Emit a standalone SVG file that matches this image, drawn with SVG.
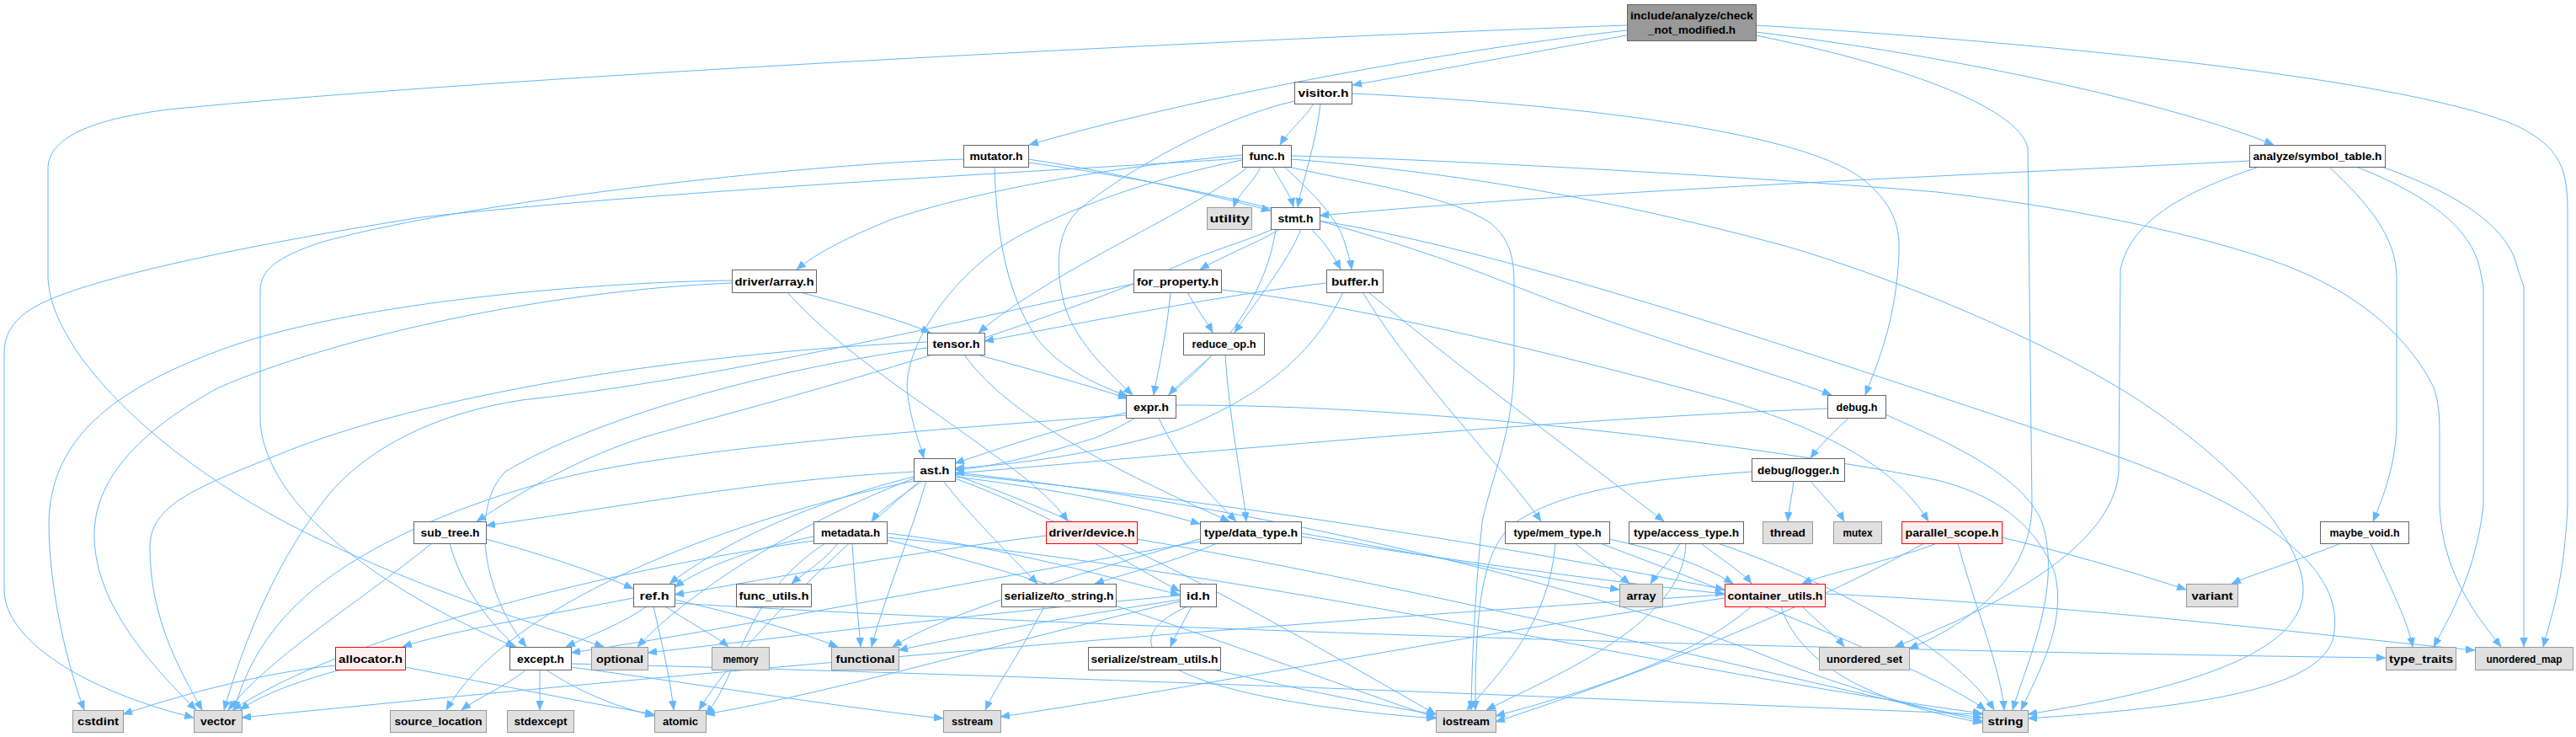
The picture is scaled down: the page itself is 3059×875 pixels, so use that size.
<svg xmlns="http://www.w3.org/2000/svg" width="3059" height="875" viewBox="0 0 3059 875">
<style>
rect{stroke-width:1}
.w rect{fill:#ffffff;stroke:#666666}
.g rect{fill:#e0e0e0;stroke:#999999}
.r rect{fill:#fff0f0;stroke:#ff0000}
.m rect{fill:#999999;stroke:#666666}
text{font-family:"Liberation Sans",Arial,sans-serif;font-size:13px;font-weight:bold;fill:#000000;text-anchor:middle}
#edges path{fill:none;stroke:#63b8ff;stroke-width:1;marker-end:url(#a)}
</style>
<defs>
<marker id="a" markerWidth="11" markerHeight="9" refX="11" refY="4.5" orient="auto" markerUnits="userSpaceOnUse" viewBox="0 0 11 9">
<path d="M0,0 L11,4.5 L0,9 z" fill="#63b8ff" stroke="#63b8ff" stroke-width="0.5"/>
</marker>
</defs>
<rect x="0" y="0" width="3059" height="875" fill="#ffffff"/>
<g id="edges">
<path d="M1932,42 C1820,62 1680,88 1606,101"/>
<path d="M1932,36 C1700,62 1400,120 1222,172"/>
<path d="M2085,38 C2350,70 2600,130 2700,172"/>
<path d="M1932,30 C1500,45 600,90 200,130 C120,140 57,160 57,200 L57,330 C60,420 200,560 400,650 C530,710 650,745 717,768"/>
<path d="M2085,42 C2250,75 2395,125 2408,175 L2413,600 C2412,690 2330,745 2267,770"/>
<path d="M2085,30 C2500,55 2880,100 2990,150 C3040,175 3049,200 3049,250 L3049,600 C3045,690 3030,730 3020,768"/>
<path d="M1560,123 C1550,140 1530,155 1520,172"/>
<path d="M1568,123 C1563,170 1548,210 1541,246"/>
<path d="M1537,120 C1450,140 1340,200 1280,250 C1250,280 1255,330 1265,365 C1280,410 1320,445 1345,469"/>
<path d="M1605,111 C1900,125 2150,160 2215,215 C2250,245 2256,270 2255,300 C2252,380 2230,430 2215,469"/>
<path d="M1221,189 C1330,205 1450,235 1509,250"/>
<path d="M1181,198 C1183,260 1190,340 1230,400 C1260,440 1310,460 1339,470"/>
<path d="M1221,193 C1500,230 1700,300 1800,340 C1950,400 2100,440 2175,469"/>
<path d="M1144,189 C950,195 550,240 380,288 C330,305 309,320 309,345 L309,500 C315,600 450,700 612,768"/>
<path d="M1475,184 C1300,200 1150,230 1060,260 C1010,280 970,300 946,320"/>
<path d="M1482,198 C1420,250 1250,320 1162,395"/>
<path d="M1475,190 C1350,215 1240,260 1190,292 C1120,340 1070,420 1078,470 C1083,505 1092,525 1097,544"/>
<path d="M1497,198 C1490,215 1470,230 1465,246"/>
<path d="M1511,198 C1520,215 1532,230 1536,246"/>
<path d="M1525,198 C1560,230 1590,260 1598,292 C1602,305 1604,312 1605,320"/>
<path d="M1533,185 C1750,190 2150,215 2300,228 C2450,245 2600,275 2700,310 C2800,345 2860,400 2890,460 C2897,480 2897,500 2897,520 L2897,600 C2900,680 2940,730 2970,768"/>
<path d="M1533,189 C1800,210 2000,260 2120,292 C2250,330 2420,400 2530,469 C2650,545 2735,640 2735,700 C2735,760 2650,810 2408,848"/>
<path d="M1530,198 C1600,215 1720,230 1770,265 C1795,285 1798,310 1798,340 L1798,440 C1795,520 1770,570 1760,620 C1752,700 1748,780 1747,843"/>
<path d="M1475,188 C1300,200 800,225 500,258 C300,290 100,330 40,365 C12,382 5,400 5,420 L5,700 C5,760 100,820 230,852"/>
<path d="M2671,191 C2400,205 1900,225 1567,256"/>
<path d="M2683,198 C2600,225 2530,260 2518,320 L2516,560 C2510,640 2400,710 2250,768"/>
<path d="M2766,198 C2810,240 2846,280 2846,330 L2846,500 C2846,550 2830,590 2818,619"/>
<path d="M2798,198 C2880,230 2935,270 2945,320 L2949,340 L2949,600 C2940,680 2910,730 2890,768"/>
<path d="M2828,198 C2920,230 2980,270 2990,320 L2997,340 L2997,768"/>
<path d="M1520,272 C1500,285 1450,305 1425,320"/>
<path d="M1557,272 C1570,285 1582,300 1592,320"/>
<path d="M1545,272 C1530,310 1490,360 1466,395"/>
<path d="M1515,272 C1500,380 1400,480 1300,520 C1220,545 1170,555 1134,558"/>
<path d="M1567,262 C1800,300 2150,420 2450,520 C2700,600 2790,680 2770,760 C2750,820 2600,840 2408,853"/>
<path d="M1512,272 C1470,290 1430,300 1400,315 C1150,420 900,480 765,519 C700,540 640,570 566,619"/>
<path d="M950,347 C1000,360 1070,380 1105,395"/>
<path d="M935,347 C1000,420 1100,480 1180,540 C1230,575 1255,600 1268,619"/>
<path d="M869,333 C700,335 400,360 250,420 C120,470 60,530 58,620 C58,700 80,790 100,843"/>
<path d="M869,336 C650,345 400,400 260,460 C150,520 110,580 112,640 C115,720 180,790 233,843"/>
<path d="M1390,347 C1385,400 1375,440 1370,469"/>
<path d="M1410,347 C1420,365 1432,380 1440,395"/>
<path d="M1450,344 C1600,360 1850,420 2050,475 C2200,520 2260,570 2290,619"/>
<path d="M1346,337 C1100,390 850,450 620,475 C520,490 440,530 393,584 C330,660 290,760 266,843"/>
<path d="M1575,336 C1450,350 1250,390 1169,405"/>
<path d="M1618,347 C1680,450 1790,560 1830,619"/>
<path d="M1625,347 C1750,450 1900,560 1976,619"/>
<path d="M1595,347 C1560,420 1500,470 1400,510 C1300,540 1200,552 1134,556"/>
<path d="M1160,421 C1230,440 1300,460 1339,473"/>
<path d="M1145,421 C1200,500 1350,570 1460,619"/>
<path d="M1101,406 C800,420 500,470 330,540 C230,580 178,600 178,650 C178,730 210,790 240,843"/>
<path d="M1101,413 C900,440 700,500 600,560 C560,600 570,700 625,768"/>
<path d="M1440,421 C1420,440 1400,455 1388,469"/>
<path d="M1455,421 C1460,500 1475,570 1480,619"/>
<path d="M1337,490 C1250,510 1180,535 1134,550"/>
<path d="M1376,496 C1400,550 1440,590 1468,619"/>
<path d="M1396,481 C1700,480 2100,530 2300,570 C2380,590 2420,630 2440,680 C2455,740 2420,800 2400,843"/>
<path d="M1337,493 C1100,510 850,530 700,560 C560,590 420,650 350,720 C310,760 290,800 278,843"/>
<path d="M2196,496 C2180,510 2160,530 2150,544"/>
<path d="M2170,485 C1800,500 1400,540 1134,562"/>
<path d="M2239,492 C2300,520 2400,560 2425,620 C2450,700 2405,790 2390,843"/>
<path d="M2130,571 C2128,590 2124,605 2123,619"/>
<path d="M2150,571 C2165,590 2182,605 2190,619"/>
<path d="M2080,560 C1950,570 1860,580 1800,620 C1760,650 1752,720 1752,843"/>
<path d="M1085,560 C900,570 750,600 577,624"/>
<path d="M1095,571 C1070,590 1045,605 1035,619"/>
<path d="M1134,566 C1250,580 1350,600 1425,622"/>
<path d="M1120,571 C1150,610 1200,660 1232,693"/>
<path d="M1085,566 C950,600 850,650 795,693"/>
<path d="M1134,568 C1250,610 1340,670 1401,702"/>
<path d="M1100,571 C1080,640 1050,710 1035,768"/>
<path d="M1092,571 C1000,650 880,760 830,843"/>
<path d="M1085,568 C950,620 820,700 757,768"/>
<path d="M1085,571 C850,620 600,720 530,843"/>
<path d="M1134,561 C1500,600 1900,700 2100,780 C2200,820 2290,845 2354,852"/>
<path d="M1134,564 C1350,640 1550,760 1705,848"/>
<path d="M1134,563 C1500,600 1850,660 2048,700"/>
<path d="M577,640 C650,660 710,680 752,699"/>
<path d="M513,645 C420,720 320,780 271,843"/>
<path d="M534,645 C560,740 650,820 777,850"/>
<path d="M966,637 C900,650 840,670 801,697"/>
<path d="M995,645 C980,665 955,680 940,693"/>
<path d="M1012,645 C1015,700 1020,740 1022,768"/>
<path d="M980,645 C880,710 880,800 838,848"/>
<path d="M1053,633 C1200,650 1330,690 1401,706"/>
<path d="M1053,638 C1500,680 2000,800 2354,847"/>
<path d="M1053,641 C1300,700 1550,800 1705,852"/>
<path d="M966,642 C700,680 400,760 276,843"/>
<path d="M1242,636 C1050,660 900,690 801,706"/>
<path d="M1350,640 C1700,700 2100,800 2354,856"/>
<path d="M1445,645 C1400,665 1340,680 1300,693"/>
<path d="M1425,640 C1250,690 1120,730 1060,768"/>
<path d="M1545,633 C1700,660 1850,690 1923,700"/>
<path d="M1545,637 C1750,670 1950,695 2048,705"/>
<path d="M1425,643 C1100,700 850,750 678,775"/>
<path d="M1870,645 C1895,665 1920,680 1935,693"/>
<path d="M1847,645 C1840,740 1780,800 1742,843"/>
<path d="M1900,645 C2100,720 2300,800 2358,843"/>
<path d="M1911,640 C1980,655 2030,675 2058,693"/>
<path d="M1995,645 C1985,665 1968,680 1960,693"/>
<path d="M2020,645 C2045,665 2070,680 2080,693"/>
<path d="M2002,645 C2000,740 1850,800 1765,843"/>
<path d="M2040,645 C2200,700 2330,780 2368,843"/>
<path d="M2377,638 C2470,660 2550,685 2596,700"/>
<path d="M2300,645 C2250,665 2170,680 2140,693"/>
<path d="M2325,645 C2345,720 2375,790 2380,843"/>
<path d="M2285,645 C2150,720 1950,800 1776,857"/>
<path d="M2780,645 C2730,665 2680,680 2650,693"/>
<path d="M2815,645 C2840,700 2860,740 2865,768"/>
<path d="M752,710 C650,730 530,750 478,768"/>
<path d="M768,720 C740,740 700,755 672,768"/>
<path d="M790,720 C820,740 850,755 865,768"/>
<path d="M801,712 C880,730 950,750 995,768"/>
<path d="M776,720 C785,760 795,800 800,843"/>
<path d="M801,716 C1200,740 2000,770 2833,781"/>
<path d="M398,790 C300,800 200,830 146,848"/>
<path d="M405,795 C350,810 310,825 285,843"/>
<path d="M481,792 C600,815 700,835 777,848"/>
<path d="M625,795 C600,815 565,830 548,843"/>
<path d="M641,795 L641,843"/>
<path d="M678,792 C850,815 1000,840 1120,853"/>
<path d="M678,788 C1200,800 1900,830 2354,848"/>
<path d="M1401,712 C1250,735 1120,760 1067,772"/>
<path d="M1401,714 C1200,760 1000,820 838,848"/>
<path d="M1401,707 C1150,730 900,760 769,775"/>
<path d="M1415,720 C1405,740 1395,755 1390,768"/>
<path d="M1410,720 C1300,770 1400,830 1705,853"/>
<path d="M1240,720 C1215,770 1185,810 1170,843"/>
<path d="M1440,795 C1550,820 1650,840 1705,848"/>
<path d="M2140,720 C2160,740 2180,755 2190,768"/>
<path d="M2167,705 C2500,720 2800,760 2939,772"/>
<path d="M2115,720 C2140,800 2250,840 2354,858"/>
<path d="M2080,720 C2000,790 1850,830 1776,850"/>
<path d="M2048,710 C1700,760 1400,820 1188,851"/>
<path d="M2048,706 C1500,740 800,800 287,852"/>
</g>
<g id="node-main" class="m"><rect x="1932.5" y="5.5" width="153" height="43"/><text x="2009" y="23" textLength="146" lengthAdjust="spacingAndGlyphs">include/analyze/check</text><text x="2009" y="40" textLength="104" lengthAdjust="spacingAndGlyphs">_not_modified.h</text></g>
<g id="node-visitor" class="w"><rect x="1537.5" y="97.5" width="68" height="26"/><text x="1571.5" y="115" textLength="60" lengthAdjust="spacingAndGlyphs">visitor.h</text></g>
<g id="node-mutator" class="w"><rect x="1144.5" y="172.5" width="77" height="26"/><text x="1183" y="190" textLength="63" lengthAdjust="spacingAndGlyphs">mutator.h</text></g>
<g id="node-func" class="w"><rect x="1475.5" y="172.5" width="58" height="26"/><text x="1504.5" y="190" textLength="42" lengthAdjust="spacingAndGlyphs">func.h</text></g>
<g id="node-symbol_table" class="w"><rect x="2671.5" y="172.5" width="161" height="26"/><text x="2752" y="190" textLength="153" lengthAdjust="spacingAndGlyphs">analyze/symbol_table.h</text></g>
<g id="node-utility" class="g"><rect x="1433.5" y="246.5" width="53" height="26"/><text x="1460" y="264" textLength="47" lengthAdjust="spacingAndGlyphs">utility</text></g>
<g id="node-stmt" class="w"><rect x="1509.5" y="246.5" width="58" height="26"/><text x="1538.5" y="264" textLength="42" lengthAdjust="spacingAndGlyphs">stmt.h</text></g>
<g id="node-driver_array" class="w"><rect x="869.5" y="320.5" width="100" height="27"/><text x="919.5" y="338.5" textLength="94" lengthAdjust="spacingAndGlyphs">driver/array.h</text></g>
<g id="node-for_property" class="w"><rect x="1346.5" y="320.5" width="104" height="27"/><text x="1398.5" y="338.5" textLength="97" lengthAdjust="spacingAndGlyphs">for_property.h</text></g>
<g id="node-buffer" class="w"><rect x="1575.5" y="320.5" width="67" height="27"/><text x="1609" y="338.5" textLength="56" lengthAdjust="spacingAndGlyphs">buffer.h</text></g>
<g id="node-tensor" class="w"><rect x="1101.5" y="395.5" width="68" height="26"/><text x="1135.5" y="413" textLength="56" lengthAdjust="spacingAndGlyphs">tensor.h</text></g>
<g id="node-reduce_op" class="w"><rect x="1405.5" y="395.5" width="96" height="26"/><text x="1453.5" y="413" textLength="76" lengthAdjust="spacingAndGlyphs">reduce_op.h</text></g>
<g id="node-expr" class="w"><rect x="1337.5" y="469.5" width="59" height="27"/><text x="1367" y="487.5" textLength="42" lengthAdjust="spacingAndGlyphs">expr.h</text></g>
<g id="node-debug" class="w"><rect x="2170.5" y="469.5" width="69" height="27"/><text x="2205" y="487.5" textLength="49" lengthAdjust="spacingAndGlyphs">debug.h</text></g>
<g id="node-ast" class="w"><rect x="1085.5" y="544.5" width="49" height="27"/><text x="1110" y="562.5" textLength="35" lengthAdjust="spacingAndGlyphs">ast.h</text></g>
<g id="node-logger" class="w"><rect x="2080.5" y="544.5" width="110" height="27"/><text x="2135.5" y="562.5" textLength="97" lengthAdjust="spacingAndGlyphs">debug/logger.h</text></g>
<g id="node-sub_tree" class="w"><rect x="491.5" y="619.5" width="86" height="26"/><text x="534.5" y="637" textLength="70" lengthAdjust="spacingAndGlyphs">sub_tree.h</text></g>
<g id="node-metadata" class="w"><rect x="966.5" y="619.5" width="87" height="26"/><text x="1010" y="637" textLength="70" lengthAdjust="spacingAndGlyphs">metadata.h</text></g>
<g id="node-device" class="r"><rect x="1242.5" y="619.5" width="108" height="26"/><text x="1296.5" y="637" textLength="102" lengthAdjust="spacingAndGlyphs">driver/device.h</text></g>
<g id="node-data_type" class="w"><rect x="1425.5" y="619.5" width="120" height="26"/><text x="1485.5" y="637" textLength="111" lengthAdjust="spacingAndGlyphs">type/data_type.h</text></g>
<g id="node-mem_type" class="w"><rect x="1787.5" y="619.5" width="124" height="26"/><text x="1849.5" y="637" textLength="104" lengthAdjust="spacingAndGlyphs">type/mem_type.h</text></g>
<g id="node-access_type" class="w"><rect x="1934.5" y="619.5" width="136" height="26"/><text x="2002.5" y="637" textLength="125" lengthAdjust="spacingAndGlyphs">type/access_type.h</text></g>
<g id="node-thread" class="g"><rect x="2093.5" y="619.5" width="59" height="26"/><text x="2123" y="637" textLength="42" lengthAdjust="spacingAndGlyphs">thread</text></g>
<g id="node-mutex" class="g"><rect x="2177.5" y="619.5" width="57" height="26"/><text x="2206" y="637" textLength="35" lengthAdjust="spacingAndGlyphs">mutex</text></g>
<g id="node-parallel_scope" class="r"><rect x="2258.5" y="619.5" width="119" height="26"/><text x="2318" y="637" textLength="111" lengthAdjust="spacingAndGlyphs">parallel_scope.h</text></g>
<g id="node-maybe_void" class="w"><rect x="2755.5" y="619.5" width="105" height="26"/><text x="2808" y="637" textLength="83" lengthAdjust="spacingAndGlyphs">maybe_void.h</text></g>
<g id="node-ref" class="w"><rect x="752.5" y="693.5" width="49" height="27"/><text x="777" y="711.5" textLength="35" lengthAdjust="spacingAndGlyphs">ref.h</text></g>
<g id="node-func_utils" class="w"><rect x="874.5" y="693.5" width="89" height="27"/><text x="919" y="711.5" textLength="83" lengthAdjust="spacingAndGlyphs">func_utils.h</text></g>
<g id="node-to_string" class="w"><rect x="1189.5" y="693.5" width="136" height="27"/><text x="1257.5" y="711.5" textLength="130" lengthAdjust="spacingAndGlyphs">serialize/to_string.h</text></g>
<g id="node-id" class="w"><rect x="1401.5" y="693.5" width="43" height="27"/><text x="1423" y="711.5" textLength="28" lengthAdjust="spacingAndGlyphs">id.h</text></g>
<g id="node-array" class="g"><rect x="1923.5" y="693.5" width="51" height="27"/><text x="1949" y="711.5" textLength="35" lengthAdjust="spacingAndGlyphs">array</text></g>
<g id="node-container_utils" class="r"><rect x="2048.5" y="693.5" width="119" height="27"/><text x="2108" y="711.5" textLength="113" lengthAdjust="spacingAndGlyphs">container_utils.h</text></g>
<g id="node-variant" class="g"><rect x="2596.5" y="693.5" width="61" height="27"/><text x="2627" y="711.5" textLength="49" lengthAdjust="spacingAndGlyphs">variant</text></g>
<g id="node-allocator" class="r"><rect x="398.5" y="768.5" width="83" height="27"/><text x="440" y="786.5" textLength="76" lengthAdjust="spacingAndGlyphs">allocator.h</text></g>
<g id="node-except" class="w"><rect x="605.5" y="768.5" width="73" height="27"/><text x="642" y="786.5" textLength="56" lengthAdjust="spacingAndGlyphs">except.h</text></g>
<g id="node-optional" class="g"><rect x="702.5" y="768.5" width="67" height="27"/><text x="736" y="786.5" textLength="56" lengthAdjust="spacingAndGlyphs">optional</text></g>
<g id="node-memory" class="g"><rect x="845.5" y="768.5" width="68" height="27"/><text x="879.5" y="786.5" textLength="42" lengthAdjust="spacingAndGlyphs">memory</text></g>
<g id="node-functional" class="g"><rect x="987.5" y="768.5" width="80" height="27"/><text x="1027.5" y="786.5" textLength="70" lengthAdjust="spacingAndGlyphs">functional</text></g>
<g id="node-stream_utils" class="w"><rect x="1292.5" y="768.5" width="157" height="27"/><text x="1371" y="786.5" textLength="151" lengthAdjust="spacingAndGlyphs">serialize/stream_utils.h</text></g>
<g id="node-unordered_set" class="g"><rect x="2160.5" y="768.5" width="107" height="27"/><text x="2214" y="786.5" textLength="90" lengthAdjust="spacingAndGlyphs">unordered_set</text></g>
<g id="node-type_traits" class="g"><rect x="2833.5" y="768.5" width="83" height="27"/><text x="2875" y="786.5" textLength="76" lengthAdjust="spacingAndGlyphs">type_traits</text></g>
<g id="node-unordered_map" class="g"><rect x="2939.5" y="768.5" width="116" height="27"/><text x="2997.5" y="786.5" textLength="90" lengthAdjust="spacingAndGlyphs">unordered_map</text></g>
<g id="node-cstdint" class="g"><rect x="86.5" y="843.5" width="60" height="26"/><text x="116.5" y="861" textLength="49" lengthAdjust="spacingAndGlyphs">cstdint</text></g>
<g id="node-vector" class="g"><rect x="230.5" y="843.5" width="57" height="26"/><text x="259" y="861" textLength="42" lengthAdjust="spacingAndGlyphs">vector</text></g>
<g id="node-source_location" class="g"><rect x="463.5" y="843.5" width="114" height="26"/><text x="520.5" y="861" textLength="104" lengthAdjust="spacingAndGlyphs">source_location</text></g>
<g id="node-stdexcept" class="g"><rect x="602.5" y="843.5" width="79" height="26"/><text x="642" y="861" textLength="63" lengthAdjust="spacingAndGlyphs">stdexcept</text></g>
<g id="node-atomic" class="g"><rect x="777.5" y="843.5" width="61" height="26"/><text x="808" y="861" textLength="42" lengthAdjust="spacingAndGlyphs">atomic</text></g>
<g id="node-sstream" class="g"><rect x="1120.5" y="843.5" width="68" height="26"/><text x="1154.5" y="861" textLength="49" lengthAdjust="spacingAndGlyphs">sstream</text></g>
<g id="node-iostream" class="g"><rect x="1705.5" y="843.5" width="71" height="26"/><text x="1741" y="861" textLength="56" lengthAdjust="spacingAndGlyphs">iostream</text></g>
<g id="node-string" class="g"><rect x="2354.5" y="843.5" width="54" height="26"/><text x="2381.5" y="861" textLength="42" lengthAdjust="spacingAndGlyphs">string</text></g>
</svg>
